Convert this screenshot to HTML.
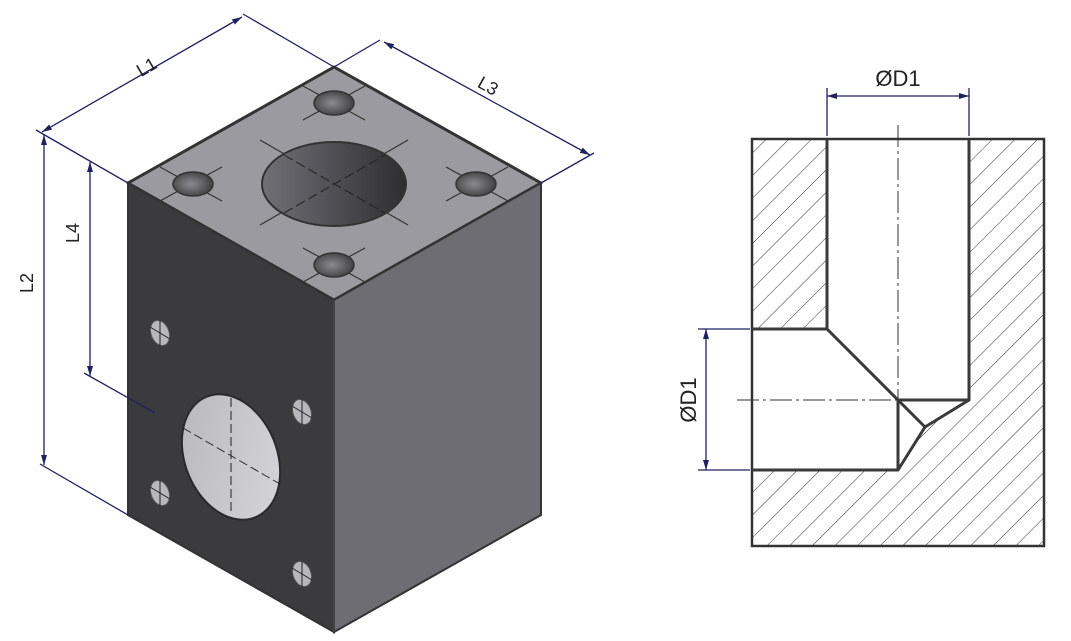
<!DOCTYPE html>
<html><head><meta charset="utf-8"><style>
html,body{margin:0;padding:0;background:#fff;}
svg{display:block;}
text{font-family:"Liberation Sans",sans-serif;fill:#222;}
</style></head><body>
<svg width="1071" height="641" viewBox="0 0 1071 641" xmlns="http://www.w3.org/2000/svg">
<defs>
<marker id="ar" viewBox="0 0 10 6" refX="10" refY="3" markerWidth="10" markerHeight="6" orient="auto-start-reverse" markerUnits="userSpaceOnUse"><path d="M0,0 L10,3 L0,6 z" fill="#1f2060"/></marker>
<radialGradient id="hg" cx="0.45" cy="0.5" r="0.6"><stop offset="0" stop-color="#8a8a90"/><stop offset="1" stop-color="#3a3a3e"/></radialGradient>
<linearGradient id="bh" x1="0" x2="1"><stop offset="0" stop-color="#707076"/><stop offset="1" stop-color="#2e2e32"/></linearGradient>
<linearGradient id="lh" x1="0" x2="1" y1="0" y2="1"><stop offset="0" stop-color="#b5b5ba"/><stop offset="1" stop-color="#d8d8dc"/></linearGradient>
<pattern id="hatch" width="16" height="16" patternUnits="userSpaceOnUse" patternTransform="rotate(45)"><line x1="0" y1="0" x2="0" y2="16" stroke="#333" stroke-width="1"/></pattern>
</defs>

<!-- Isometric block -->
<polygon points="334,67 541,183 334,300 128,183" fill="#9a9aa0" stroke="#333" stroke-width="3" stroke-linejoin="round"/>
<polygon points="128,183 334,300 334,632 128,515" fill="#3b3b3e" stroke="#333" stroke-width="2"/>
<polygon points="334,300 541,183 541,515 334,632" fill="#6d6d73" stroke="#333" stroke-width="2"/>
<line x1="334" y1="300" x2="334" y2="632" stroke="#555" stroke-width="1"/>

<!-- top face holes -->
<g stroke="#333" stroke-width="1.2">
<line x1="260" y1="140" x2="408" y2="225"/><line x1="260" y1="225" x2="408" y2="140"/>
<line x1="303" y1="86" x2="365" y2="120"/><line x1="303" y1="120" x2="365" y2="86"/>
<line x1="160" y1="167" x2="222" y2="201"/><line x1="160" y1="201" x2="222" y2="167"/>
<line x1="446" y1="167" x2="508" y2="201"/><line x1="446" y1="201" x2="508" y2="167"/>
<line x1="303" y1="248" x2="365" y2="282"/><line x1="303" y1="282" x2="365" y2="248"/>
</g>
<ellipse cx="334" cy="184" rx="72" ry="42" fill="url(#bh)" stroke="#333" stroke-width="2"/>
<g stroke="#222" stroke-width="1" stroke-dasharray="10,4">
<line x1="284" y1="155" x2="385" y2="213"/><line x1="284" y1="213" x2="385" y2="155"/>
</g>
<g fill="url(#hg)" stroke="#333" stroke-width="1.5">
<ellipse cx="334" cy="103" rx="20" ry="12"/>
<ellipse cx="193" cy="184" rx="20" ry="12"/>
<ellipse cx="476" cy="184" rx="20" ry="12"/>
<ellipse cx="334" cy="265" rx="20" ry="12"/>
</g>

<!-- left face holes -->
<ellipse cx="231" cy="457" rx="46" ry="65" transform="rotate(-22 231 457)" fill="url(#lh)" stroke="#2a2a2c" stroke-width="2"/>
<g stroke="#222" stroke-width="1" stroke-dasharray="9,4">
<line x1="231" y1="398" x2="231" y2="512"/><line x1="183" y1="428" x2="280" y2="484"/>
</g>
<g fill="#b8b8bc" stroke="#555" stroke-width="1">
<ellipse cx="160" cy="333" rx="9" ry="13" transform="rotate(-20 160 333)"/>
<ellipse cx="302" cy="412" rx="9" ry="13" transform="rotate(-20 302 412)"/>
<ellipse cx="160" cy="493" rx="9" ry="13" transform="rotate(-20 160 493)"/>
<ellipse cx="302" cy="574" rx="9" ry="13" transform="rotate(-20 302 574)"/>
</g>
<g stroke="#222" stroke-width="1">
<line x1="160" y1="320" x2="160" y2="346"/><line x1="150" y1="327" x2="170" y2="339"/>
<line x1="302" y1="399" x2="302" y2="425"/><line x1="292" y1="406" x2="312" y2="418"/>
<line x1="160" y1="480" x2="160" y2="506"/><line x1="150" y1="487" x2="170" y2="499"/>
<line x1="302" y1="561" x2="302" y2="587"/><line x1="292" y1="568" x2="312" y2="580"/>
</g>

<!-- dimensions isometric -->
<g stroke="#1f2060" stroke-width="1.3" fill="none">
<line x1="128" y1="183" x2="36" y2="130"/>
<line x1="334" y1="67" x2="243" y2="14"/>
<line x1="541" y1="183" x2="594" y2="153"/>
<line x1="334" y1="67" x2="380" y2="40"/>
<line x1="128" y1="515" x2="40" y2="464"/>
<line x1="128" y1="183" x2="90" y2="162" stroke="none"/>
<line x1="155" y1="413" x2="84" y2="373"/>
<line x1="42" y1="132" x2="242" y2="17" marker-start="url(#ar)" marker-end="url(#ar)"/>
<line x1="384" y1="42" x2="590" y2="155" marker-start="url(#ar)" marker-end="url(#ar)"/>
<line x1="44" y1="135" x2="44" y2="465" marker-start="url(#ar)" marker-end="url(#ar)"/>
<line x1="90" y1="162" x2="90" y2="376" marker-start="url(#ar)" marker-end="url(#ar)"/>
</g>
<text x="138" y="78" font-size="18" transform="rotate(-30 138 72)">L1</text>
<text x="478" y="92" font-size="18" transform="rotate(29 488 86)">L3</text>
<text x="40" y="300" font-size="18" transform="rotate(-90 33 300)">L2</text>
<text x="86" y="250" font-size="18" transform="rotate(-90 79 250)">L4</text>

<!-- Section view -->
<path d="M752,139 H1044 V546 H752 Z M827,139 V329 H752 V470 H898 L925,427 L969,400 V139 Z" fill="url(#hatch)" fill-rule="evenodd"/>
<path d="M827,139 V329 H752 V470 H898 L925,427 L969,400 V139 Z" fill="#fff"/>
<rect x="752" y="139" width="292" height="407" fill="none" stroke="#333" stroke-width="2.5"/>
<g stroke="#3a3a3a" stroke-width="3" fill="none" stroke-linejoin="round">
<polyline points="827,139 827,329 752,329"/>
<polyline points="752,470 898,470 898,400 969,400 969,139"/>
<polyline points="827,329 898,400 925,427 969,400"/>
<line x1="925" y1="427" x2="898" y2="470"/>
</g>
<g stroke="#333" stroke-width="1" stroke-dasharray="22,4,3,4">
<line x1="898" y1="125" x2="898" y2="400"/>
<line x1="737" y1="400" x2="898" y2="400"/>
</g>
<g stroke="#1f2060" stroke-width="1.3">
<line x1="827" y1="136" x2="827" y2="88"/>
<line x1="969" y1="136" x2="969" y2="88"/>
<line x1="827" y1="96" x2="969" y2="96" marker-start="url(#ar)" marker-end="url(#ar)"/>
<line x1="750" y1="329" x2="698" y2="329"/>
<line x1="750" y1="470" x2="698" y2="470"/>
<line x1="706" y1="329" x2="706" y2="470" marker-start="url(#ar)" marker-end="url(#ar)"/>
</g>
<text x="898" y="86" font-size="22" text-anchor="middle">ØD1</text>
<text x="0" y="0" font-size="22" text-anchor="middle" transform="translate(696,400) rotate(-90)">ØD1</text>
</svg>
</body></html>
